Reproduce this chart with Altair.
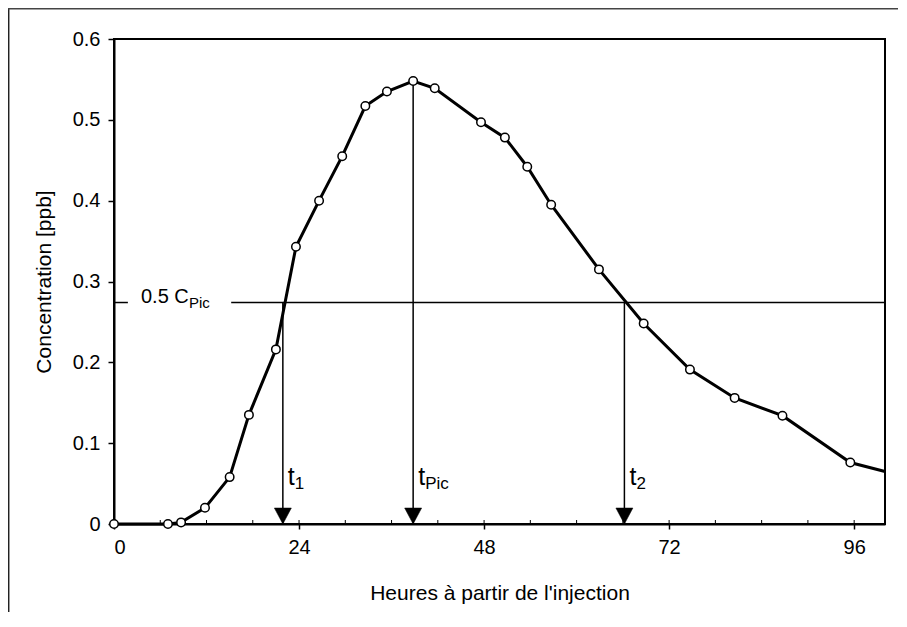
import altair as alt
import pandas as pd

# ---- data ----
hours = [0, 7.0, 8.7, 11.8, 15.0, 17.5, 21.0, 23.6, 26.6, 29.6, 32.6, 35.4, 38.8,
         41.6, 47.6, 50.7, 53.6, 56.7, 62.9, 68.7, 74.7, 80.5, 86.7, 95.5, 100.0]
conc = [0, 0, 0.002, 0.020, 0.058, 0.135, 0.216, 0.343, 0.400, 0.455, 0.517, 0.535, 0.548,
        0.539, 0.497, 0.478, 0.442, 0.395, 0.315, 0.248, 0.191, 0.156, 0.134, 0.076, 0.065]
has_marker = [True] * 24 + [False]

t_names = ["1", "Pic", "2"]
t_hours = [21.9, 38.8, 66.2]
t_tops = [0.274, 0.548, 0.274]

half_level = 0.274
half_seg_start = [0.0, 15.2]
half_seg_end = [1.8, 100.0]
half_label_x = 3.5
t_label_y = 0.048

x_ticks = [0, 24, 48, 72, 96]
x_minor = [6, 12, 18, 24, 30, 36, 42, 48, 54, 60, 66, 72, 78, 84, 90, 96]
y_ticks = [0, 0.1, 0.2, 0.3, 0.4, 0.5, 0.6]

W, H = 771, 485
FONT = "Liberation Sans"

curve = pd.DataFrame({"h": hours, "c": conc, "m": has_marker})
tdf = pd.DataFrame({"name": t_names, "h": t_hours, "top": t_tops, "zero": [0, 0, 0],
                    "ly": [t_label_y] * 3})
half = pd.DataFrame({"x1": half_seg_start, "x2": half_seg_end, "y": [half_level] * 2})
minor = pd.DataFrame({"h": x_minor})

xs = alt.Scale(domain=[0, 100], nice=False, zero=False)
ys = alt.Scale(domain=[0, 0.6], nice=False)

x_axis = alt.Axis(values=x_ticks, title="Heures à partir de l'injection", grid=False,
                  tickSize=5, labelPadding=8, titleX=W / 2, titleY=69,
                  titleBaseline="middle", titleAlign="center")
y_axis = alt.Axis(values=y_ticks, format=".1~f", title="Concentration [ppb]", grid=False,
                  tickSize=6, labelPadding=8, titleX=-70, titleY=H / 2, titleAngle=-90,
                  titleAlign="center", titleBaseline="middle")

line = alt.Chart(curve).mark_line(color="black", strokeWidth=3).encode(
    x=alt.X("h:Q", scale=xs, axis=x_axis),
    y=alt.Y("c:Q", scale=ys, axis=y_axis),
)
points = alt.Chart(curve).transform_filter("datum.m").mark_point(
    shape="circle", filled=True, fill="white", stroke="black", strokeWidth=1.5,
    size=72, opacity=1
).encode(x=alt.X("h:Q", scale=xs), y=alt.Y("c:Q", scale=ys))

half_rules = alt.Chart(half).mark_rule(color="black", strokeWidth=1.5).encode(
    x=alt.X("x1:Q", scale=xs), x2="x2:Q", y=alt.Y("y:Q", scale=ys)
)
half_text = alt.Chart(pd.DataFrame({"x": [half_label_x], "y": [half_level]})).mark_text(
    text="0.5 C", font=FONT, fontSize=20, align="left", baseline="alphabetic", color="black"
).encode(x=alt.X("x:Q", scale=xs), y=alt.Y("y:Q", scale=ys))
half_sub = alt.Chart(pd.DataFrame({"x": [half_label_x], "y": [half_level]})).mark_text(
    text="Pic", font=FONT, fontSize=15, align="left", baseline="alphabetic", color="black",
    dx=48, dy=5
).encode(x=alt.X("x:Q", scale=xs), y=alt.Y("y:Q", scale=ys))

vrules = alt.Chart(tdf).mark_rule(color="black", strokeWidth=1.5).encode(
    x=alt.X("h:Q", scale=xs), y=alt.Y("top:Q", scale=ys), y2="zero:Q"
)
arrows = alt.Chart(tdf).mark_point(
    shape="M-1,-0.94L1,-0.94L0,0.94Z", filled=True, fill="black", stroke="black",
    strokeWidth=0.5, size=289, opacity=1, yOffset=-8
).encode(x=alt.X("h:Q", scale=xs), y=alt.Y("zero:Q", scale=ys))
t_text = alt.Chart(tdf).mark_text(
    text="t", font=FONT, fontSize=25, align="left", baseline="alphabetic", color="black", dx=5
).encode(x=alt.X("h:Q", scale=xs), y=alt.Y("ly:Q", scale=ys))
t_sub = alt.Chart(tdf).mark_text(
    font=FONT, fontSize=17, align="left", baseline="alphabetic", color="black", dx=12, dy=4
).encode(x=alt.X("h:Q", scale=xs), y=alt.Y("ly:Q", scale=ys), text="name:N")

minor_ticks = alt.Chart(minor).mark_rule(color="black", strokeWidth=1).encode(
    x=alt.X("h:Q", scale=xs), y=alt.value(H), y2=alt.value(H - 4)
)

frame_left = alt.Chart(pd.DataFrame({"a": [0]})).mark_rule(color="#222", strokeWidth=1.5).encode(
    x=alt.value(-105.3), y=alt.value(-31), y2=alt.value(H + 200)
)
frame_top = alt.Chart(pd.DataFrame({"a": [0]})).mark_rule(color="#444", strokeWidth=1.5).encode(
    x=alt.value(-106), x2=alt.value(W + 200), y=alt.value(-30.3)
)

chart = alt.layer(
    frame_left, frame_top, minor_ticks, half_rules, vrules, arrows, line, points,
    half_text, half_sub, t_text, t_sub
).properties(
    width=W, height=H,
    background="white",
    autosize=alt.AutoSizeParams(type="none"),
    padding={"left": 106, "top": 31, "right": 13, "bottom": 88},
).configure_view(
    stroke="black", strokeWidth=2
).configure_axis(
    domainColor="black", domainWidth=2, tickColor="black", tickWidth=1.5,
    labelColor="black", titleColor="black", labelFont=FONT, titleFont=FONT,
    labelFontSize=20, titleFontSize=21, labelFontWeight="normal", titleFontWeight="normal"
)

chart.save("out.html", embed_options={"renderer": "svg", "actions": False})
